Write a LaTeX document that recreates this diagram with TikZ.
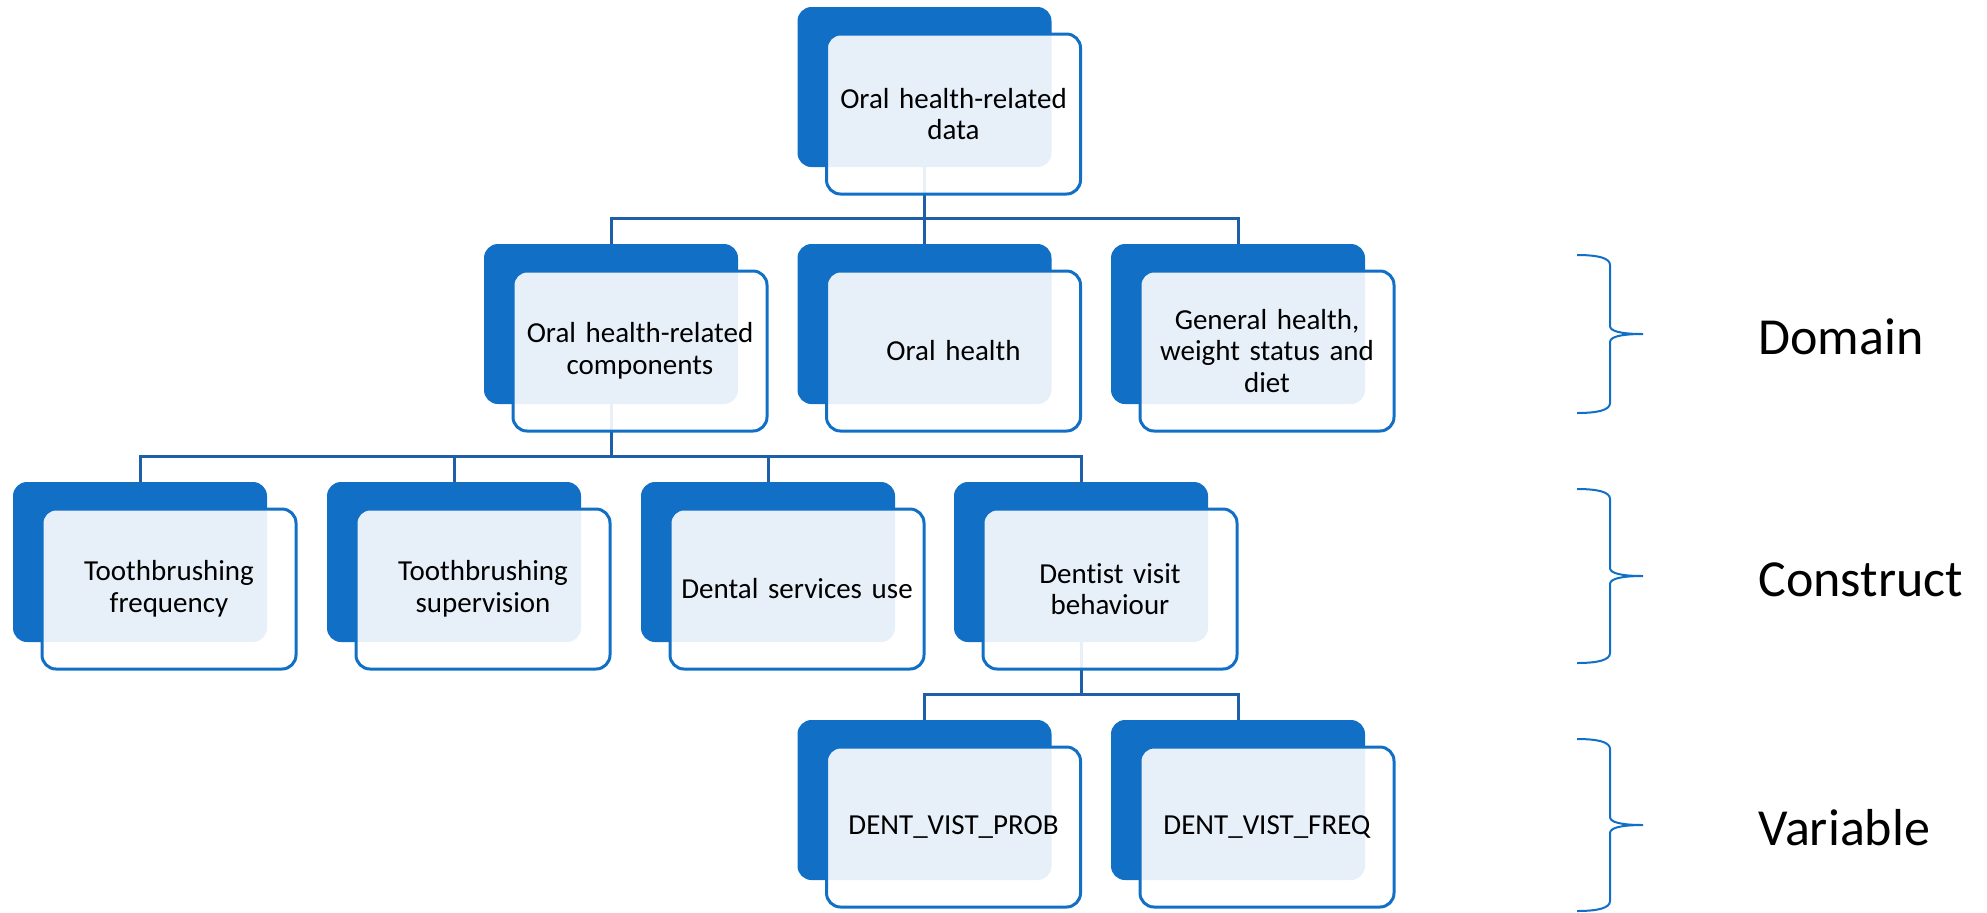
\documentclass[tikz,border=0pt]{standalone}
\usepackage{fontspec}
\setmainfont{Carlito}[Ligatures=NoCommon]
\usetikzlibrary{positioning, calc, backgrounds}
\definecolor{accent}{HTML}{1170C6}
\definecolor{linkblue}{HTML}{1F5FA8}
\tikzset{
  darkbox/.style={rectangle, rounded corners=7pt, fill=accent,
                  minimum width=127pt, minimum height=80pt, inner sep=0pt},
  lightbox/.style={rectangle, rounded corners=7pt, draw=accent,
                   line width=1.5pt, fill=white, fill opacity=0.9,
                   text opacity=1, minimum width=127pt, minimum height=80pt,
                   text width=120pt, align=center,
                   font=\fontsize{14.5}{15.8}\selectfont},
  link/.style={draw=linkblue, line width=1.5pt},
  bracket/.style={draw=accent, line width=1pt},
  levellabel/.style={font=\fontsize{26}{30}\selectfont, inner sep=0pt},
}

\begin{document}
\begin{tikzpicture}[x=0.5pt, y=-0.5pt]
  \useasboundingbox (0,0) rectangle (1987,912);

  %% Boxes: dark back card, light front card with text
  \foreach \n/\x/\y/\t in {root/924.5/87/{Oral health-related\\data},
      comp/611/324/{Oral health-related\\components},
      oral/924.5/324/{Oral health},
      gen/1238/324/{General health,\\weight status and\\diet},
      freq/140/562/{Toothbrushing\\frequency},
      sup/454/562/{Toothbrushing\\supervision},
      serv/768/562/{Dental services use},
      visit/1081/562/{Dentist visit\\behaviour},
      prob/924.5/800/{DENT\_VIST\_PROB},
      vfreq/1238/800/{DENT\_VIST\_FREQ}}{
    \node[darkbox] (d\n) at (\x,\y) {};
    \node[lightbox] (\n) at ([xshift=14.5pt, yshift=-13.5pt]d\n.center) {\t};
  }

  %% Tree connectors
  \begin{scope}[on background layer]
    \foreach \p/\c in {root/comp, root/oral, root/gen,
                       comp/freq, comp/sup, comp/serv, comp/visit,
                       visit/prob, visit/vfreq}{
      \draw[link] (d\p.south) |- ([yshift=12.5pt]d\c.north) -- (d\c.north);
    }
  \end{scope}

  %% Level braces
  \foreach \ya/\yb/\lbl in {255/413/Domain, 489/663/Construct, 739/911/Variable}{
    \pgfmathsetmacro\ym{(\ya+\yb)/2}
    \draw[bracket] (1577,\ya) .. controls (1598,\ya) and (1610,\ya+3) .. (1610,\ya+10)
      -- (1610,\ym-8) .. controls (1610,\ym-3) and (1620,\ym) .. (1643,\ym)
      .. controls (1620,\ym) and (1610,\ym+3) .. (1610,\ym+8)
      -- (1610,\yb-10) .. controls (1610,\yb-3) and (1598,\yb) .. (1577,\yb);
    \node[levellabel, anchor=base west] (l\lbl) at (1758,\ym+20) {\lbl};
  }
\end{tikzpicture}
\end{document}
